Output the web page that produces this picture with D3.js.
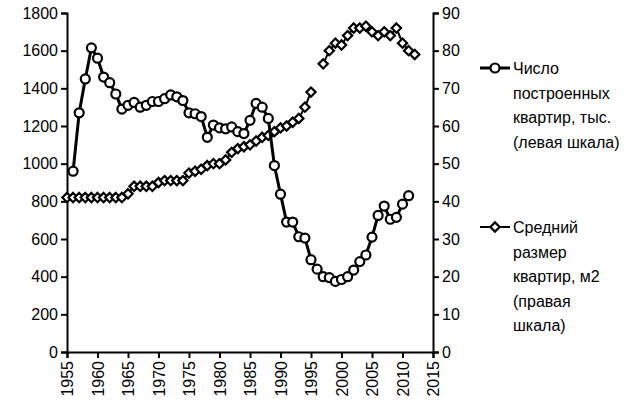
<!DOCTYPE html>
<html><head><meta charset="utf-8">
<script src="https://cdn.jsdelivr.net/npm/d3@7"></script>
<style>body{margin:0;background:#fff}text{font-family:"Liberation Sans",Arial,sans-serif}</style>
</head><body><svg id="c" width="640" height="416"></svg>
<script>
const years = d3.range(1955, 2013);
// Число построенных квартир, тыс. (левая шкала); null = no data
const flats = [null,960,1270,1450,1615,1560,1460,1430,1370,1290,1310,1325,1300,1310,1330,1330,1345,1365,1355,1335,1270,1265,1250,1140,1205,1190,1185,1195,1170,1160,1230,1320,1300,1240,990,838,690,690,612,605,490,440,400,395,375,385,400,435,480,515,610,725,775,705,715,785,830];
// Средний размер квартир, м2 (правая шкала)
const sizes = [41,41,41,41,41,41,41,41,41,41,42,44,44,44,44,45,45.5,45.5,45.5,45.5,47.5,48,48.5,49.5,50,50,51,53,54,54.5,55,56,57,57.5,58.5,59.5,60,61,62,65,69,null,76.5,80,82,81.5,84,86,86,86.5,85,84,85,84,86,82,80,79];
const leftTicks = d3.range(0, 1801, 200);
const rightTicks = d3.range(0, 91, 10);
const xTicks = d3.range(1955, 2016, 5);

const svg = d3.select('#c');
const m = {l: 67, r: 433, t: 13, b: 352};
const x = d3.scaleLinear().domain([1955, 2015]).range([m.l, m.r]);
const yl = d3.scaleLinear().domain([0, 1800]).range([m.b, m.t]);
const yr = d3.scaleLinear().domain([0, 90]).range([m.b, m.t]);

const fs = '16px';
const xa = svg.append('g').attr('transform', `translate(0,${m.b})`)
  .call(d3.axisBottom(x).tickValues(xTicks).tickFormat(d3.format('d')).tickSize(6));
xa.selectAll('text').attr('transform', 'rotate(-90)').attr('text-anchor', 'end')
  .attr('x', -9).attr('y', 0).attr('dy', '0.35em').style('font-size', fs).attr('fill', '#000');
const la = svg.append('g').attr('transform', `translate(${m.l},0)`)
  .call(d3.axisLeft(yl).tickValues(leftTicks).tickFormat(d3.format('d')).tickSize(6));
la.selectAll('text').style('font-size', fs).attr('fill', '#000');
const ra = svg.append('g').attr('transform', `translate(${m.r},0)`)
  .call(d3.axisRight(yr).tickValues(rightTicks).tickFormat(d3.format('d')).tickSize(6));
ra.selectAll('text').style('font-size', fs).attr('fill', '#000');
svg.selectAll('.domain,.tick line').attr('stroke', '#000').attr('stroke-width', 2);

const fd = years.map((y, i) => ({y, v: flats[i]}));
const sd = years.map((y, i) => ({y, v: sizes[i]}));

svg.append('path').datum(sd).attr('fill', 'none').attr('stroke', '#000').attr('stroke-width', 2)
  .attr('d', d3.line().defined(d => d.v != null).x(d => x(d.y)).y(d => yr(d.v)));
svg.selectAll('.dia').data(sd.filter(d => d.v != null)).enter().append('path')
  .attr('d', d3.symbol(d3.symbolDiamond2, 55))
  .attr('transform', d => `translate(${x(d.y)},${yr(d.v)})`)
  .attr('fill', '#fff').attr('stroke', '#000').attr('stroke-width', 2.2);

svg.append('path').datum(fd).attr('fill', 'none').attr('stroke', '#000').attr('stroke-width', 3)
  .attr('d', d3.line().defined(d => d.v != null).x(d => x(d.y)).y(d => yl(d.v)));
svg.selectAll('.pt').data(fd.filter(d => d.v != null)).enter().append('circle')
  .attr('cx', d => x(d.y)).attr('cy', d => yl(d.v)).attr('r', 4.5)
  .attr('fill', '#fff').attr('stroke', '#000').attr('stroke-width', 2.2);

// legend
function legend(y0, lines, kind) {
  const g = svg.append('g');
  g.append('line').attr('x1', 480).attr('x2', 510).attr('y1', y0).attr('y2', y0)
    .attr('stroke', '#000').attr('stroke-width', kind == 'c' ? 3 : 2);
  if (kind == 'c') g.append('circle').attr('cx', 495).attr('cy', y0).attr('r', 4.5)
    .attr('fill', '#fff').attr('stroke', '#000').attr('stroke-width', 2.2);
  else g.append('path').attr('d', d3.symbol(d3.symbolDiamond2, 55)())
    .attr('transform', `translate(495,${y0})`).attr('fill', '#fff').attr('stroke', '#000').attr('stroke-width', 2.2);
  lines.forEach((t, i) => g.append('text').attr('x', 513).attr('y', y0 + 6 + i * 24.5)
    .style('font-size', fs).text(t));
}
legend(68, ['Число', 'построенных', 'квартир, тыс.', '(левая шкала)'], 'c');
legend(227, ['Средний', 'размер', 'квартир, м2', '(правая', 'шкала)'], 'd');
</script></body></html>
